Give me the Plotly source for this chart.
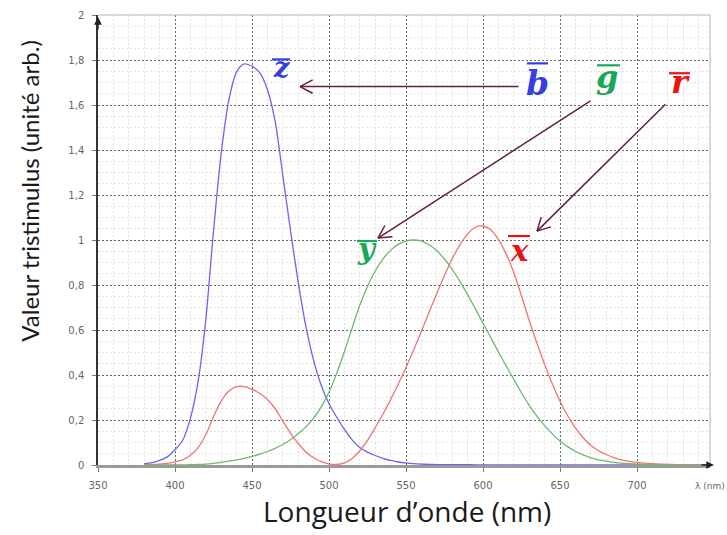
import math
import plotly.graph_objects as go

# CIE 1931 colour-matching functions, sampled every 5 nm
wavelength = list(range(380, 785, 5))

x_bar = [
    0.0014, 0.0022, 0.0042, 0.0076, 0.0143, 0.0232, 0.0435, 0.0776, 0.1344, 0.2148,
    0.2839, 0.3285, 0.3483, 0.3481, 0.3362, 0.3187, 0.2908, 0.2511, 0.1954, 0.1421,
    0.0956, 0.0580, 0.0320, 0.0147, 0.0049, 0.0024, 0.0093, 0.0291, 0.0633, 0.1096,
    0.1655, 0.2257, 0.2904, 0.3597, 0.4334, 0.5121, 0.5945, 0.6784, 0.7621, 0.8425,
    0.9163, 0.9786, 1.0263, 1.0567, 1.0622, 1.0456, 1.0026, 0.9384, 0.8544, 0.7514,
    0.6424, 0.5419, 0.4479, 0.3608, 0.2835, 0.2187, 0.1649, 0.1212, 0.0874, 0.0636,
    0.0468, 0.0329, 0.0227, 0.0158, 0.0114, 0.0081, 0.0058, 0.0041, 0.0029, 0.0020,
    0.0014, 0.0010, 0.0007, 0.0005, 0.0003, 0.0002, 0.0002, 0.0001, 0.0001, 0.0001,
    0.0000,
]

y_bar = [
    0.0000, 0.0001, 0.0001, 0.0002, 0.0004, 0.0006, 0.0012, 0.0022, 0.0040, 0.0073,
    0.0116, 0.0168, 0.0230, 0.0298, 0.0380, 0.0480, 0.0600, 0.0739, 0.0910, 0.1126,
    0.1390, 0.1693, 0.2080, 0.2586, 0.3230, 0.4073, 0.5030, 0.6082, 0.7100, 0.7932,
    0.8620, 0.9149, 0.9540, 0.9803, 0.9950, 1.0000, 0.9950, 0.9786, 0.9520, 0.9154,
    0.8700, 0.8163, 0.7570, 0.6949, 0.6310, 0.5668, 0.5030, 0.4412, 0.3810, 0.3210,
    0.2650, 0.2170, 0.1750, 0.1382, 0.1070, 0.0816, 0.0610, 0.0446, 0.0320, 0.0232,
    0.0170, 0.0119, 0.0082, 0.0057, 0.0041, 0.0029, 0.0021, 0.0015, 0.0010, 0.0007,
    0.0005, 0.0004, 0.0002, 0.0002, 0.0001, 0.0001, 0.0001, 0.0000, 0.0000, 0.0000,
    0.0000,
]

z_bar = [
    0.0065, 0.0105, 0.0201, 0.0362, 0.0679, 0.1102, 0.2074, 0.3713, 0.6456, 1.0391,
    1.3856, 1.6230, 1.7471, 1.7826, 1.7721, 1.7441, 1.6692, 1.5281, 1.2876, 1.0419,
    0.8130, 0.6162, 0.4652, 0.3533, 0.2720, 0.2123, 0.1582, 0.1117, 0.0782, 0.0573,
    0.0422, 0.0298, 0.0203, 0.0134, 0.0087, 0.0057, 0.0039, 0.0027, 0.0021, 0.0018,
    0.0017, 0.0014, 0.0011, 0.0010, 0.0008, 0.0006, 0.0003, 0.0002, 0.0002, 0.0001,
    0.0000, 0.0000, 0.0000, 0.0000, 0.0000, 0.0000, 0.0000, 0.0000, 0.0000, 0.0000,
    0.0000, 0.0000, 0.0000, 0.0000, 0.0000, 0.0000, 0.0000, 0.0000, 0.0000, 0.0000,
    0.0000, 0.0000, 0.0000, 0.0000, 0.0000, 0.0000, 0.0000, 0.0000, 0.0000, 0.0000,
    0.0000,
]

x_ticks = [350, 400, 450, 500, 550, 600, 650, 700]
x_tick_text = ["350", "400", "450", "500", "550", "600", "650", "700"]
y_ticks = [0, 0.2, 0.4, 0.6, 0.8, 1.0, 1.2, 1.4, 1.6, 1.8, 2.0]
y_tick_text = ["0", "0,2", "0,4", "0,6", "0,8", "1", "1,2", "1,4", "1,6", "1,8", "2"]

# ---- page geometry ----
W, H = 727, 535
M_L, M_R, M_T, M_B = 98, 17, 9, 70
PLOT_W = W - M_L - M_R
PLOT_H = H - M_T - M_B
X_RANGE = [350, 350 + PLOT_W * 50 / 77]
Y_RANGE = [0, 2.0]


def xd(px):
    """page pixel column -> wavelength axis value"""
    return X_RANGE[0] + (px - M_L) / PLOT_W * (X_RANGE[1] - X_RANGE[0])


def yd(py):
    """page pixel row -> tristimulus axis value"""
    return Y_RANGE[1] - (py - M_T) / PLOT_H * (Y_RANGE[1] - Y_RANGE[0])


fig = go.Figure()

curve_style = [
    (z_bar, "#6666ee"),
    (x_bar, "#f07474"),
    (y_bar, "#6cb86c"),
]
for values, colour in curve_style:
    fig.add_trace(go.Scatter(
        x=wavelength, y=values, mode="lines",
        line=dict(color=colour, width=1.3, shape="spline", smoothing=0.8),
        hoverinfo="skip", showlegend=False,
    ))

annotations = []
shapes = []

# frame on the top and right
shapes.append(dict(type="line", xref="paper", yref="paper", x0=0, x1=1, y0=1, y1=1,
                   line=dict(color="#b4b4b4", width=1)))
shapes.append(dict(type="line", xref="paper", yref="paper", x0=1, x1=1, y0=0, y1=1,
                   line=dict(color="#b4b4b4", width=1)))

# axis arrowheads
annotations.append(dict(xref="paper", yref="y", x=1 + 4 / PLOT_W, y=0, ax=-14, ay=0,
                        text="", showarrow=True, arrowhead=2, arrowsize=1.1,
                        arrowwidth=1.4, arrowcolor="#222"))
annotations.append(dict(xref="x", yref="paper", x=350, y=1 - 2 / PLOT_H, ax=0, ay=14,
                        text="", showarrow=True, arrowhead=2, arrowsize=1.1,
                        arrowwidth=1.4, arrowcolor="#222"))

# lettered labels with their over-bars
labels = [
    # text, colour, font size, centre px, centre py, bar x0, bar x1, bar py
    ("z", "#3440e0", 27, 281, 62, 272, 290, 54),
    ("b", "#3440e0", 33, 537, 78, 527, 548, 58),
    ("g", "#18a85a", 32, 607, 72, 597, 620, 60),
    ("r", "#e81414", 32, 680, 77, 669, 690, 68),
    ("y", "#18a85a", 29, 367, 246, 357, 377, 238),
    ("x", "#e81414", 29, 519, 248, 508, 530, 233),
]
for txt, colour, size, cx, cy, bx0, bx1, by in labels:
    annotations.append(dict(
        xref="x", yref="y", x=xd(cx), y=yd(cy), text=f"<b><i>{txt}</i></b>",
        showarrow=False, xanchor="center", yanchor="middle",
        font=dict(family="DejaVu Serif", size=size, color=colour),
    ))
    shapes.append(dict(type="line", xref="x", yref="y",
                       x0=xd(bx0), x1=xd(bx1), y0=yd(by), y1=yd(by),
                       line=dict(color=colour, width=2.2)))

# pointer arrows with open chevron heads
ARROW_COL = "#62203e"
pointers = [
    ((520, 81.5), (300, 81.5)),
    ((592, 95), (378, 235)),
    ((667, 98), (537, 228)),
]
ARM, HALF_ANGLE = 16, math.radians(28)
for (sx, sy), (tx, ty) in pointers:
    annotations.append(dict(
        xref="x", yref="y", axref="x", ayref="y",
        x=xd(tx), y=yd(ty), ax=xd(sx), ay=yd(sy),
        text="", showarrow=True, arrowhead=0, arrowwidth=1.5, arrowcolor=ARROW_COL,
        standoff=0,
    ))
    bx, by = sx - tx, sy - ty
    n = math.hypot(bx, by)
    bx, by = bx / n, by / n
    for sgn in (1, -1):
        a = sgn * HALF_ANGLE
        rx = bx * math.cos(a) - by * math.sin(a)
        ry = bx * math.sin(a) + by * math.cos(a)
        annotations.append(dict(
            xref="x", yref="y", x=xd(tx), y=yd(ty), ax=rx * ARM, ay=ry * ARM,
            text="", showarrow=True, arrowhead=0, arrowwidth=1.5,
            arrowcolor=ARROW_COL, standoff=0,
        ))

# axis unit at the end of the wavelength axis
annotations.append(dict(xref="paper", yref="paper", x=1 + 17 / PLOT_W, y=-21 / PLOT_H,
                        text="λ (nm)", showarrow=False, xanchor="right", yanchor="middle",
                        font=dict(family="DejaVu Sans", size=9, color="#666")))

# axis titles
annotations.append(dict(xref="paper", yref="paper", x=-68 / PLOT_W, y=1 - (188 - M_T) / PLOT_H,
                        text="Valeur tristimulus (unité arb.)", textangle=-90,
                        showarrow=False, xanchor="center", yanchor="middle",
                        font=dict(family="Lato", size=24, color="#1a1a1a")))
annotations.append(dict(xref="paper", yref="paper", x=(407 - M_L) / PLOT_W,
                        y=-(512 - M_T - PLOT_H) / PLOT_H,
                        text="Longueur d’onde (nm)", showarrow=False,
                        xanchor="center", yanchor="middle",
                        font=dict(family="Open Sans", size=28, color="#1a1a1a")))

fig.update_layout(
    width=W, height=H,
    margin=dict(l=M_L, r=M_R, t=M_T, b=M_B, pad=0),
    paper_bgcolor="white", plot_bgcolor="white",
    showlegend=False,
    annotations=annotations, shapes=shapes,
    xaxis=dict(
        range=X_RANGE, tickvals=x_ticks, ticktext=x_tick_text,
        showgrid=True, gridcolor="#666", gridwidth=1, griddash="2px,2px",
        minor=dict(dtick=10, tick0=350, showgrid=True, gridcolor="#e3e3e3", gridwidth=1),
        showline=True, linecolor="#9a9a9a", linewidth=2.5,
        ticks="outside", ticklen=4, tickcolor="#777", tickwidth=1,
        ticklabelstandoff=5,
        tickfont=dict(family="DejaVu Sans", size=10, color="#666"),
        zeroline=False,
    ),
    yaxis=dict(
        range=Y_RANGE, tickvals=y_ticks, ticktext=y_tick_text,
        showgrid=True, gridcolor="#666", gridwidth=1, griddash="2px,2px",
        minor=dict(dtick=0.05, tick0=0, showgrid=True, gridcolor="#e3e3e3", gridwidth=1),
        showline=True, linecolor="#333", linewidth=1.5,
        ticks="outside", ticklen=4, tickcolor="#777", tickwidth=1,
        ticklabelstandoff=6,
        tickfont=dict(family="DejaVu Sans", size=10, color="#666"),
        zeroline=False,
    ),
)

fig.write_html("out.html")
